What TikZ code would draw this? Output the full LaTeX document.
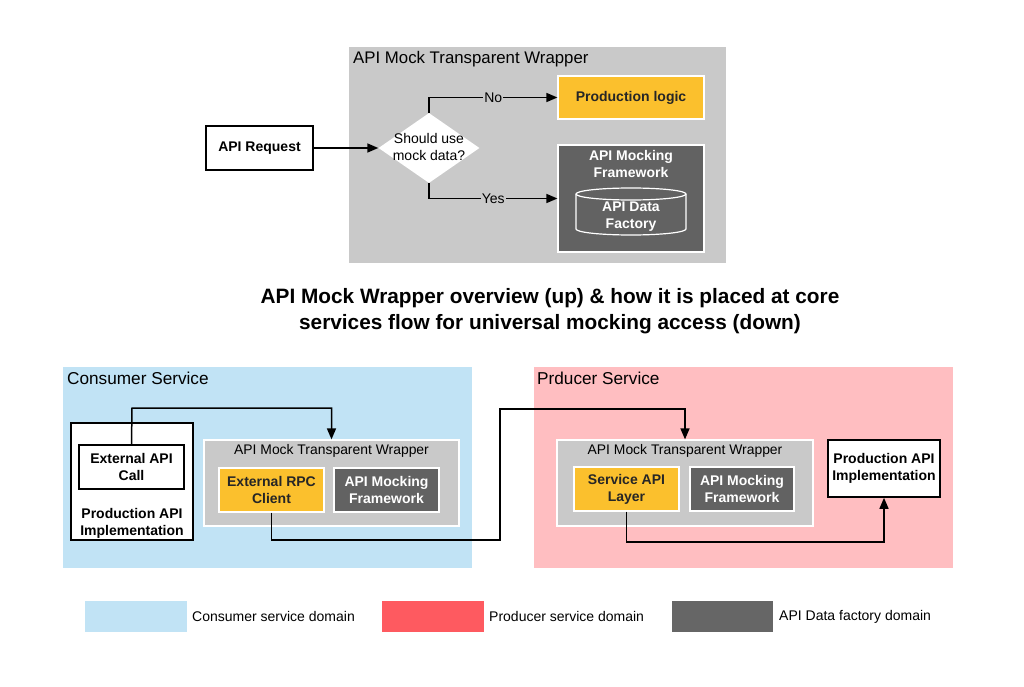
\documentclass[tikz,border=0pt]{standalone}
\usepackage{fontspec}
\setmainfont{Liberation Sans}
\usetikzlibrary{arrows.meta,shapes.geometric,positioning}
\definecolor{wrapgray}{HTML}{C9C9C9}
\definecolor{darkbox}{HTML}{626262}
\definecolor{yell}{HTML}{FBC02D}
\definecolor{cblue}{HTML}{C1E3F5}
\definecolor{ppink}{HTML}{FFBEC1}
\definecolor{lred}{HTML}{FE5A60}
\definecolor{ldark}{HTML}{666666}
\tikzset{
  box/.style={draw=black,line width=1.6pt,fill=white,font=\fontsize{14}{17}\selectfont\bfseries,align=center,inner sep=0pt},
  ybox/.style={draw=white,line width=1.2pt,fill=yell,font=\fontsize{14}{17}\selectfont\bfseries,align=center,inner sep=0pt,text=black!85},
  dbox/.style={draw=white,line width=1.2pt,fill=darkbox,font=\fontsize{14}{17}\selectfont\bfseries,align=center,inner sep=0pt,text=white},
  wrap/.style={draw=white,line width=1.2pt,fill=wrapgray,inner sep=0pt},
  conn/.style={draw=black,line width=1.5pt,-{Triangle[length=11pt,width=9pt]}},
  lbl/.style={font=\fontsize{14}{16}\selectfont,fill=wrapgray,inner sep=1pt},
  legtxt/.style={font=\fontsize{14}{16}\selectfont,anchor=west,inner sep=0pt},
}
\begin{document}
\begin{tikzpicture}[x=1pt,y=-1pt]
\useasboundingbox[fill=white] (0,0) rectangle (1024,687);
% ---------- top overview ----------
\node[wrap,draw=none,minimum width=377pt,minimum height=216pt] (topwrap) at (537.5,155) {};
\node[anchor=west,font=\fontsize{16.8}{18}\selectfont,inner sep=0pt] (toptitle) at (353,59) {API Mock Transparent Wrapper};
\node[box,minimum width=107pt,minimum height=44pt] (req) at (259.5,148) {API Request};
\node[diamond,fill=white,draw=none,minimum width=101pt,minimum height=70pt,inner sep=0pt] (dec) at (429,148) {};
\node[font=\fontsize{14}{17}\selectfont,align=center,inner sep=0pt] (dectxt) at (429,147) {Should use\\mock data?};
\node[ybox,minimum width=146pt,minimum height=43pt] (prod) at (631,97.5) {Production logic};
\node[dbox,minimum width=146pt,minimum height=107pt] (mock) at (631,198.5) {};
\node[dbox,anchor=north,draw=none,fill=none] (mocktitle) at (631,150) {API Mocking\\Framework};
\draw[white,line width=1.2pt,fill=darkbox] (576,194) -- (576,229) arc[start angle=180,end angle=360,x radius=55pt,y radius=6pt] -- (686,194) arc[start angle=0,end angle=180,x radius=55pt,y radius=6pt] -- cycle;
\draw[white,line width=1.2pt] (576,194) arc[start angle=180,end angle=360,x radius=55pt,y radius=6pt];
\node[dbox,draw=none,fill=none] (fact) at (631,217) {API Data\\Factory};
\draw[conn] (req.east) -- (dec.west);
\draw[conn] (dec.north) |- node[lbl,pos=0.75] (nolbl) {No} (prod.west);
\draw[conn] (dec.south) |- node[lbl,pos=0.75] (yeslbl) {Yes} (mock.west);
% ---------- caption ----------
\node[font=\fontsize{20.8}{26}\selectfont\bfseries,align=center] (caption) at (550,311) {API Mock Wrapper overview (up) \& how it is placed at core\\services flow for universal mocking access (down)};
% ---------- consumer service ----------
\node[fill=cblue,minimum width=409pt,minimum height=201pt,inner sep=0pt] (cons) at (267.5,467.5) {};
\node[anchor=west,font=\fontsize{17.2}{18}\selectfont,inner sep=0pt] (constitle) at (67,378) {Consumer Service};
\node[box,minimum width=122pt,minimum height=117pt] (cimpl) at (132,481.5) {};
\node[font=\fontsize{14}{17}\selectfont\bfseries,align=center,inner sep=0pt] (cimpltxt) at (132,523) {Production API\\Implementation};
\node[box,minimum width=105pt,minimum height=44pt] (extcall) at (131.5,467) {External API\\Call};
\node[wrap,minimum width=255pt,minimum height=86pt] (cwrap) at (331.5,483) {};
\node[font=\fontsize{13.9}{15}\selectfont,inner sep=0pt] (cwraptitle) at (331.5,451) {API Mock Transparent Wrapper};
\node[ybox,minimum width=105pt,minimum height=44pt] (rpc) at (271.5,490) {External RPC\\Client};
\node[dbox,minimum width=105pt,minimum height=44pt] (cmock) at (386.5,490) {API Mocking\\Framework};
% ---------- producer service ----------
\node[fill=ppink,minimum width=419pt,minimum height=201pt,inner sep=0pt] (prodsvc) at (743.5,467.5) {};
\node[anchor=west,font=\fontsize{17.2}{18}\selectfont,inner sep=0pt] (prodtitle) at (537,378) {Prducer Service};
\node[wrap,minimum width=256pt,minimum height=86pt] (pwrap) at (685,483) {};
\node[font=\fontsize{13.9}{15}\selectfont,inner sep=0pt] (pwraptitle) at (685,451) {API Mock Transparent Wrapper};
\node[ybox,minimum width=105pt,minimum height=44pt] (sapi) at (626.5,489) {Service API\\Layer};
\node[dbox,minimum width=104pt,minimum height=44pt] (pmock) at (742,489) {API Mocking\\Framework};
\node[box,minimum width=112pt,minimum height=57pt] (pimpl) at (884,468.5) {Production API\\Implementation};
% ---------- connectors (bottom) ----------
\coordinate (c1) at (132,408);
\draw[conn] (extcall.north) -- (c1) -| (cwrap.north);
\coordinate (r1) at (500,540);
\coordinate (r2) at (500,409);
\draw[conn] (rpc.south) |- (r1) -- (r2) -| (pwrap.north);
\coordinate (s1) at (626.5,542);
\draw[conn] (sapi.south) -- (s1) -| (pimpl.south);
% ---------- legend ----------
\node[fill=cblue,minimum width=102pt,minimum height=31pt,inner sep=0pt] (lg1) at (136,616.5) {};
\node[legtxt] (lg1t) at (192,616.5) {Consumer service domain};
\node[fill=lred,minimum width=102pt,minimum height=31pt,inner sep=0pt] (lg2) at (433,616.5) {};
\node[legtxt] (lg2t) at (489,616.5) {Producer service domain};
\node[fill=ldark,minimum width=101pt,minimum height=31pt,inner sep=0pt] (lg3) at (722.5,616.5) {};
\node[legtxt] (lg3t) at (779,616.5) {API Data factory domain};
\end{tikzpicture}
\end{document}
